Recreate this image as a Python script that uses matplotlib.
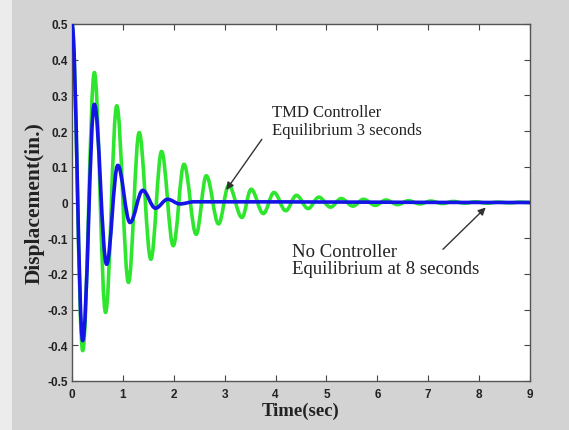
import matplotlib
matplotlib.use("Agg")
import matplotlib.pyplot as plt
from matplotlib.path import Path
from matplotlib.patches import PathPatch, Rectangle

# ---- data (extrema) ----
green_t = [0.0, 0.21, 0.44, 0.66, 0.88, 1.11, 1.32, 1.55, 1.76, 1.99, 2.20, 2.44,
           2.64, 2.88, 3.08, 3.34, 3.52, 3.76, 3.97, 4.20, 4.41, 4.64, 4.85, 5.08,
           5.29, 5.52, 5.73, 5.96, 6.17, 6.40, 6.61, 6.84, 7.05, 7.28, 7.49, 7.72,
           7.93, 8.16, 8.37, 8.60, 8.81, 9.0]
green_v = [0.5, -0.415, 0.364, -0.308, 0.271, -0.224, 0.196, -0.159, 0.143, -0.121,
           0.107, -0.089, 0.075, -0.060, 0.048, -0.042, 0.037, -0.031, 0.028, -0.023,
           0.020, -0.017, 0.015, -0.013, 0.011, -0.010, 0.009, -0.008, 0.007, -0.006,
           0.005, -0.004, 0.004, -0.003, 0.003, -0.002, 0.002, -0.002, 0.001, -0.001,
           0.001, 0.0]
blue_t = [0.0, 0.21, 0.44, 0.68, 0.90, 1.14, 1.39, 1.64, 1.88, 2.12, 2.40, 9.0]
blue_v = [0.5, -0.387, 0.275, -0.173, 0.104, -0.056, 0.034, -0.016, 0.009, -0.004,
          0.002, 0.0]

x_ticks = [0, 1, 2, 3, 4, 5, 6, 7, 8, 9]
y_ticks = [-0.5, -0.4, -0.3, -0.2, -0.1, 0, 0.1, 0.2, 0.3, 0.4, 0.5]
y_tick_labels = ["-0.5", "-0.4", "-0.3", "-0.2", "-0.1", "0", "0.1", "0.2", "0.3", "0.4", "0.5"]

tmd_text = "TMD Controller\nEquilibrium 3 seconds"
tmd_text_xy = (3.93, 0.182)
tmd_arrow_tail = (3.73, 0.177)
tmd_arrow_head = (3.03, 0.035)

noc_text = "No Controller\nEquilibrium at 8 seconds"
noc_text_xy = (4.33, -0.113)
noc_arrow_tail = (7.29, -0.131)
noc_arrow_head = (8.13, -0.014)


def smooth_path(t, v, k=0.3642):
    verts = [(t[0], v[0])]
    codes = [Path.MOVETO]
    for i in range(len(t) - 1):
        dt = t[i + 1] - t[i]
        verts += [(t[i] + k * dt, v[i]), (t[i + 1] - k * dt, v[i + 1]), (t[i + 1], v[i + 1])]
        codes += [Path.CURVE4] * 3
    return Path(verts, codes)


fig = plt.figure(figsize=(5.69, 4.31), dpi=100, facecolor="#d3d3d3")
fig.patches.append(Rectangle((0, 0), 12 / 569, 1, transform=fig.transFigure,
                             facecolor="#ececec", edgecolor="none", zorder=-1))
ax = fig.add_axes([72 / 569, 1 - 382 / 431, (530 - 72) / 569, (382 - 25) / 431])
ax.set_facecolor("white")

ax.add_patch(PathPatch(smooth_path(green_t, green_v), fill=False, edgecolor="#2ee62e",
                       lw=2.6, capstyle="round", joinstyle="round", zorder=2))
ax.add_patch(PathPatch(smooth_path(blue_t, blue_v), fill=False, edgecolor="#1414e6",
                       lw=2.6, capstyle="round", joinstyle="round", zorder=3))

ax.set_xlim(0, 9)
ax.set_ylim(-0.5, 0.5)
ax.set_xticks(x_ticks)
ax.set_yticks(y_ticks)
ax.set_yticklabels(y_tick_labels)
ax.tick_params(direction="in", length=4, width=0.8, top=True, right=True,
               colors="#444444", labelcolor="#222222", labelsize=8.5)
ax.tick_params(axis="x", pad=5)
ax.tick_params(axis="y", pad=3)
for lab in ax.get_xticklabels() + ax.get_yticklabels():
    lab.set_fontfamily("Liberation Sans")
    lab.set_fontweight("bold")
for s in ax.spines.values():
    s.set_color("#555555")
    s.set_linewidth(1.0)

ax.set_xlabel("Time(sec)", family="Liberation Serif", fontweight="bold", fontsize=13.5,
              color="#222222", labelpad=1)
ax.set_ylabel("Displacement(in.)", family="Liberation Serif", fontweight="bold", fontsize=15.5,
              color="#222222", labelpad=2)

ax.text(tmd_text_xy[0], tmd_text_xy[1], tmd_text, family="Liberation Serif", fontsize=12,
        color="#222222", va="bottom", ha="left", linespacing=1.15)
ax.annotate("", xy=tmd_arrow_head, xytext=tmd_arrow_tail,
            arrowprops=dict(arrowstyle="-|>", color="#333333", lw=1.0, mutation_scale=11,
                            shrinkA=0, shrinkB=0))
ax.text(noc_text_xy[0], noc_text_xy[1], noc_text, family="Liberation Serif", fontsize=13.5,
        color="#222222", va="top", ha="left", linespacing=1.0)
ax.annotate("", xy=noc_arrow_head, xytext=noc_arrow_tail,
            arrowprops=dict(arrowstyle="-|>", color="#333333", lw=1.0, mutation_scale=11,
                            shrinkA=0, shrinkB=0))

fig.savefig("out.png", dpi=100, facecolor=fig.get_facecolor())
